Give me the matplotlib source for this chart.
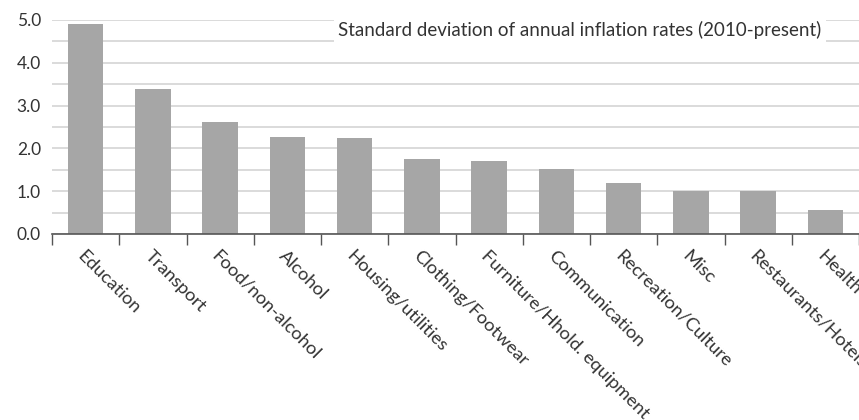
import matplotlib
matplotlib.use("Agg")
import matplotlib.pyplot as plt
import numpy as np

categories = ["Education", "Transport", "Food/non-alcohol", "Alcohol", "Housing/utilities",
              "Clothing/Footwear", "Furniture/Hhold. equipment", "Communication",
              "Recreation/Culture", "Misc", "Restaurants/Hotels", "Health"]
values = [4.91, 3.39, 2.62, 2.27, 2.24, 1.75, 1.71, 1.52, 1.19, 1.00, 1.00, 0.56]
yticks = [0.0, 1.0, 2.0, 3.0, 4.0, 5.0]
title = "Standard deviation of annual inflation rates (2010-present)"

plt.rcParams['font.family'] = ['Lato', 'DejaVu Sans']
fig = plt.figure(figsize=(8.59, 4.20), dpi=100)
ax = fig.add_axes([52/859, 1 - 234/420, 807/859, 214/420])

x = np.arange(len(categories))
ax.bar(x, values, width=0.53, color="#a6a6a6", zorder=2)
ax.set_xlim(-0.5, len(categories) - 0.5)
ax.set_ylim(0, 5.0)

ax.set_yticks(yticks)
ax.set_yticklabels([f"{v:.1f}" for v in yticks], fontsize=12.5, color="#333333")
ax.set_yticks(np.arange(0.5, 5.0, 1.0), minor=True)
ax.tick_params(axis='y', which='both', length=0, pad=8)
ax.grid(axis='y', which='both', color="#d4d4d4", linewidth=1.2, zorder=0)

ax.set_xticks(x)
ax.set_xticklabels(categories, rotation=-45, ha='left', va='top',
                   rotation_mode='anchor', fontsize=13.3, color="#333333")
ax.set_xticks(np.arange(-0.5, len(categories), 1.0), minor=True)
ax.tick_params(axis='x', which='major', length=0, pad=10)
ax.tick_params(axis='x', which='minor', length=8, color="#555555", width=1)

for s in ['left', 'right', 'top']:
    ax.spines[s].set_visible(False)
ax.spines['bottom'].set_color("#555555")
ax.spines['bottom'].set_linewidth(1.2)
ax.spines['bottom'].set_zorder(3)

ax.text(0.654, 0.953, title, transform=ax.transAxes, ha='center', va='center',
        fontsize=13.5, color="#333333", zorder=4,
        bbox=dict(facecolor='white', edgecolor='none', pad=3))

fig.savefig("out.png", dpi=100)
